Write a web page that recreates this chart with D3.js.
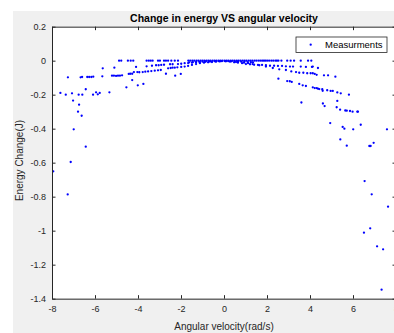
<!DOCTYPE html>
<html>
<head>
<meta charset="utf-8">
<script src="https://cdn.jsdelivr.net/npm/d3@7"></script>
<style>
  body { margin: 0; background: #fff; }
  svg { display: block; font-family: "Liberation Sans", Arial, sans-serif; }
</style>
</head>
<body>
<div id="chart"></div>
<script>
/**
 * CONSTANTS
 * */
const width = 394,
  height = 333,
  plot = { left: 52, right: 396, top: 26.67, bottom: 298.67 };

/**
 * DATA  [angular velocity (rad/s), energy change (J)]
 * grouped by the bands they sit in
 * */
const zeroRow = [
  [-4.88,0],[-4.78,0],[-4.47,0],[-4.34,0],[-4.22,0],[-3.60,0],[-3.50,0],[-3.41,0],[-3.32,0],
  [-3.07,0],[-2.98,0],[-2.79,0],[-2.70,0],[-2.60,0],[-2.45,0],[-2.29,0],[-2.14,0],[-1.66,0],
  [-1.57,0],[-1.47,0],[-1.38,0],[-1.28,0],[-1.19,0],[-1.09,0],[-1.00,0],[-0.91,0],[-0.81,0],
  [-0.72,0],[-0.63,0],[-0.53,0],[-0.44,0],[-0.35,0],[-0.25,0],[-0.16,0],[-0.07,0],[0.03,0],
  [0.12,0],[0.21,0],[0.31,0],[0.40,0],[0.49,0],[0.59,0],[0.68,0],[0.77,0],[0.87,0],[0.96,0],
  [1.05,0],[1.15,0],[1.24,0],[1.33,0],[1.43,0],[1.52,0],[1.62,0],[1.71,0],[1.79,0],[1.86,0],
  [1.93,0],[2.01,0],[2.10,0],[2.20,0],[2.29,0],[2.39,0],[2.46,0],[2.53,0],[2.67,0],[2.94,0],
  [3.10,0],[3.26,0],[3.57,0],[3.91,0],[4.06,0]
];

const capRow = [
  [-1.62,-0.010],[-1.45,-0.009],[-1.30,-0.008],[-1.15,-0.007],[-1.00,-0.006],[-0.85,-0.005],
  [-0.70,-0.004],[-0.55,-0.004],[-0.40,-0.003],[-0.25,-0.003],[-0.10,-0.003],[0.05,-0.003],
  [0.20,-0.003],[0.35,-0.004],[0.50,-0.004],[0.65,-0.005],[0.80,-0.006],[0.95,-0.007],
  [1.10,-0.008],[1.25,-0.009],[1.35,-0.010]
];

const shallowBranch = [
  [-5.64,-0.045],[-5.10,-0.041],[-4.09,-0.037],[-3.60,-0.033],[-3.35,-0.030],[-3.16,-0.027],
  [-3.04,-0.027],[-2.92,-0.025],[-2.79,-0.024],[-2.51,-0.021],[-2.39,-0.021],[-2.14,-0.020],
  [-1.99,-0.018],[-1.83,-0.015],[-1.67,-0.014],[-1.49,-0.012],[-1.30,-0.010],[-1.12,-0.008],
  [-0.88,-0.006],[-0.65,-0.005],[-0.42,-0.004],[-0.19,-0.004],[0.09,-0.004],[0.28,-0.006],
  [0.47,-0.010],[0.65,-0.012],[0.84,-0.015],[1.02,-0.020],[1.21,-0.021],[1.40,-0.024],
  [1.58,-0.025],[1.77,-0.025],[1.95,-0.027],[2.14,-0.030],[2.33,-0.030],[2.51,-0.031],
  [2.70,-0.031],[2.88,-0.033],[3.07,-0.035],[3.21,-0.035],[3.57,-0.035],[3.81,-0.037],
  [4.09,-0.037],[4.13,-0.035],[4.37,-0.043]
];

const middleBranch = [
  [-7.26,-0.098],[-6.67,-0.098],[-6.60,-0.096],[-6.36,-0.096],[-6.27,-0.096],[-6.17,-0.096],
  [-6.08,-0.094],[-5.66,-0.092],[-5.21,-0.088],[-5.12,-0.088],[-5.02,-0.090],[-4.93,-0.088],
  [-4.84,-0.088],[-4.74,-0.086],[-4.43,-0.078],[-4.36,-0.077],[-4.27,-0.077],[-4.19,-0.067],
  [-4.03,-0.067],[-3.94,-0.068],[-3.78,-0.067],[-3.66,-0.065],[-3.53,-0.063],[-3.38,-0.061],
  [-3.22,-0.059],[-3.07,-0.057],[-2.94,-0.055],[-2.60,-0.045],[-2.48,-0.043],[-2.39,-0.041],
  [-2.29,-0.041],[-2.17,-0.039],[-1.99,-0.037],[-1.83,-0.035],[-1.67,-0.031],[-1.49,-0.025],
  [-1.30,-0.020],[-1.12,-0.015],[-0.93,-0.012],[-0.74,-0.010],[-0.56,-0.008],[-0.37,-0.006],
  [-0.19,-0.004],[0.56,-0.008],[0.93,-0.012],[1.12,-0.015],[1.33,-0.020],[1.64,-0.027],
  [1.95,-0.035],[2.27,-0.043],[2.57,-0.051],[2.88,-0.055],[3.13,-0.063],[3.35,-0.067],
  [3.50,-0.071],[3.69,-0.071],[3.87,-0.074],[4.03,-0.074],[4.13,-0.074],[4.22,-0.078],
  [4.31,-0.083],[4.65,-0.086],[4.84,-0.086],[5.18,-0.094]
];

const lowerBranch = [
  [-7.61,-0.190],[-7.36,-0.200],[-7.07,-0.192],[-6.76,-0.200],[-6.59,-0.200],[-6.43,-0.168],
  [-6.09,-0.200],[-5.95,-0.186],[-5.87,-0.198],[-5.78,-0.190],[-5.33,-0.186],[-4.54,-0.157],
  [-4.01,-0.145],[-3.75,-0.137],[-4.27,-0.114],[-2.70,-0.077],[-2.27,-0.088],[-2.01,-0.078],
  [2.53,-0.106],[2.94,-0.120],[3.06,-0.121],[3.15,-0.125],[3.50,-0.137],[3.66,-0.145],
  [3.81,-0.149],[4.13,-0.157],[4.22,-0.161],[4.31,-0.161],[4.37,-0.165],[4.43,-0.167],
  [4.57,-0.168],[4.59,-0.177],[4.80,-0.174],[4.96,-0.178],[5.06,-0.178],[5.27,-0.187],
  [5.43,-0.192],[5.81,-0.200]
];

const outliers = [
  [-7.94,-0.651],[-7.27,-0.787],[-7.13,-0.596],[-6.99,-0.404],[-6.43,-0.506],[-6.79,-0.300],
  [-6.62,-0.324],[-7.02,-0.235],[-6.74,-0.259],
  [3.60,-0.246],[4.60,-0.252],[4.68,-0.267],[5.27,-0.237],[5.24,-0.274],[5.40,-0.288],
  [5.64,-0.293],[5.71,-0.294],[5.86,-0.296],[5.98,-0.300],[6.20,-0.300],[6.23,-0.300],
  [4.94,-0.367],[5.52,-0.390],[5.60,-0.400],[6.01,-0.404],[6.36,-0.377],[7.58,-0.404],
  [5.41,-0.463],[5.71,-0.500],[6.76,-0.502],[6.82,-0.502],[6.96,-0.483],[6.54,-0.708],
  [6.87,-0.786],[7.63,-0.859],[6.80,-0.986],[6.51,-1.012],[7.12,-1.092],[7.40,-1.110],
  [7.33,-1.347]
];

const xTicks = [-8, -6, -4, -2, 0, 2, 4, 6, 8];
const yTicks = [0.2, 0, -0.2, -0.4, -0.6, -0.8, -1, -1.2, -1.4];

const allPoints = [].concat(zeroRow, capRow, shallowBranch, middleBranch, lowerBranch, outliers);

/**
 * SCALES
 * */
const xScale = d3.scaleLinear().domain([-8, 8]).range([plot.left, plot.right]);
const yScale = d3.scaleLinear().domain([-1.4, 0.2]).range([plot.bottom, plot.top]);

const fmt = d => String(+d.toFixed(1));

const svg = d3.select("#chart")
  .append("svg")
  .attr("width", width)
  .attr("height", height);

// figure background (grey) and axes background (white)
svg.append("rect")
  .attr("x", 13).attr("y", 11)
  .attr("width", width - 13).attr("height", height - 11)
  .attr("fill", "#f0f0f0");

svg.append("rect")
  .attr("x", plot.left).attr("y", plot.top)
  .attr("width", plot.right - plot.left).attr("height", plot.bottom - plot.top)
  .attr("fill", "#fff");

// points
svg.append("g")
  .selectAll("circle")
  .data(allPoints)
  .join("circle")
  .attr("cx", d => xScale(d[0]))
  .attr("cy", d => yScale(d[1]))
  .attr("r", 1.15)
  .attr("fill", "#0000ff");

// AXES - ticks point inward like matlab
const tickLen = 3.5;
const axisColor = "#262626";

const gx = svg.append("g")
  .attr("transform", `translate(0,${plot.bottom})`)
  .call(d3.axisBottom(xScale).tickValues(xTicks).tickFormat(fmt)
    .tickSizeInner(-tickLen).tickSizeOuter(0).tickPadding(7));

const gxTop = svg.append("g")
  .attr("transform", `translate(0,${plot.top})`)
  .call(d3.axisTop(xScale).tickValues(xTicks).tickFormat("")
    .tickSizeInner(-tickLen).tickSizeOuter(0));

const gy = svg.append("g")
  .attr("transform", `translate(${plot.left},0)`)
  .call(d3.axisLeft(yScale).tickValues(yTicks).tickFormat(fmt)
    .tickSizeInner(-tickLen).tickSizeOuter(0).tickPadding(6));

const gyRight = svg.append("g")
  .attr("transform", `translate(${plot.right},0)`)
  .call(d3.axisRight(yScale).tickValues(yTicks).tickFormat("")
    .tickSizeInner(-tickLen).tickSizeOuter(0));

[gx, gxTop, gy, gyRight].forEach(g => {
  g.select(".domain").attr("stroke", axisColor).attr("stroke-width", 1);
  g.selectAll(".tick line").attr("stroke", axisColor).attr("stroke-width", 1);
  g.selectAll(".tick text")
    .attr("fill", axisColor)
    .attr("font-size", 9)
    .attr("font-family", "Liberation Sans, Arial, sans-serif");
});

// title and axis labels
svg.append("text")
  .attr("x", (plot.left + plot.right) / 2)
  .attr("y", 21.5)
  .attr("text-anchor", "middle")
  .attr("font-size", 10.5)
  .attr("font-weight", "bold")
  .attr("fill", "#000")
  .text("Change in energy VS angular velocity");

svg.append("text")
  .attr("x", (plot.left + plot.right) / 2)
  .attr("y", 329.5)
  .attr("text-anchor", "middle")
  .attr("font-size", 10)
  .attr("fill", axisColor)
  .text("Angular velocity(rad/s)");

svg.append("text")
  .attr("transform", "translate(22.5,160.5) rotate(-90)")
  .attr("text-anchor", "middle")
  .attr("font-size", 10)
  .attr("fill", axisColor)
  .text("Energy Change(J)");

// legend
const legend = svg.append("g").attr("transform", "translate(296,37)");
legend.append("rect")
  .attr("width", 91).attr("height", 15.5)
  .attr("fill", "#fff")
  .attr("stroke", axisColor)
  .attr("stroke-width", 0.8);
legend.append("circle")
  .attr("cx", 14.7).attr("cy", 7.7)
  .attr("r", 1.15)
  .attr("fill", "#0000ff");
legend.append("text")
  .attr("x", 29).attr("y", 11)
  .attr("font-size", 9.5)
  .attr("fill", "#000")
  .text("Measurments");
</script>
</body>
</html>
